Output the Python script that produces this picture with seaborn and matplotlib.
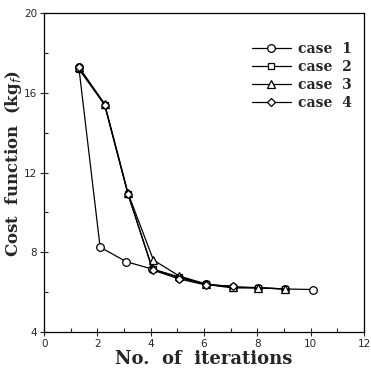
import matplotlib
matplotlib.use("Agg")
import matplotlib.pyplot as plt
import seaborn as sns
import pandas as pd
from matplotlib.ticker import MultipleLocator

case1_x = [1.3, 2.1, 3.08, 4.05, 5.06, 6.06, 7.07, 8.04, 9.04, 10.09]
case1_y = [17.3, 8.25, 7.52, 7.15, 6.72, 6.38, 6.25, 6.22, 6.15, 6.12]
case2_x = [1.3, 2.27, 3.15, 4.07, 5.07, 6.07, 7.07, 8.04, 9.04]
case2_y = [17.2, 15.4, 10.9, 7.15, 6.75, 6.38, 6.2, 6.2, 6.15]
case3_x = [1.3, 2.27, 3.15, 4.1, 5.07, 6.07, 7.07, 8.04, 9.04]
case3_y = [17.3, 15.45, 10.95, 7.6, 6.8, 6.4, 6.25, 6.2, 6.15]
case4_x = [1.3, 2.27, 3.15, 4.07, 5.07, 6.07, 7.07]
case4_y = [17.3, 15.4, 10.9, 7.1, 6.65, 6.35, 6.3]
labels = ["case  1", "case  2", "case  3", "case  4"]

frames = []
for lab, xs, ys in zip(labels, [case1_x, case2_x, case3_x, case4_x],
                       [case1_y, case2_y, case3_y, case4_y]):
    frames.append(pd.DataFrame({"iter": xs, "cost": ys, "case": lab}))
df = pd.concat(frames, ignore_index=True)

sns.set_style("ticks")
fig = plt.figure(figsize=(3.71, 3.80), dpi=100)
ax = fig.add_axes([0.119, 0.127, 0.862, 0.838])

sns.lineplot(data=df, x="iter", y="cost", hue="case", style="case",
             markers=["o", "s", "^", "D"], dashes=False,
             palette=["black"] * 4, linewidth=0.9, markersize=5,
             sort=False, ax=ax, legend=False)

for ln, ms in zip(ax.lines, [5.5, 5, 5.5, 4]):
    ln.set_markerfacecolor("white")
    ln.set_markeredgecolor("black")
    ln.set_markeredgewidth(0.9)
    ln.set_markersize(ms)

ax.legend(ax.lines[:4], labels, loc="upper right", frameon=False,
          bbox_to_anchor=(1.0, 0.95), handlelength=2.8, handletextpad=0.5,
          labelspacing=0.3,
          prop={"family": "DejaVu Serif", "weight": "bold", "size": 10})

ax.set_xlim(0, 12)
ax.set_ylim(4, 20)
ax.set_xticks([0, 2, 4, 6, 8, 10, 12])
ax.set_yticks([4, 8, 12, 16, 20])
ax.xaxis.set_minor_locator(MultipleLocator(1))
ax.yaxis.set_minor_locator(MultipleLocator(2))
ax.tick_params(axis="both", which="major", direction="inout", length=6,
               width=0.8, labelsize=7.5, pad=2)
ax.tick_params(axis="both", which="minor", direction="in", length=3, width=0.8)
for s in ax.spines.values():
    s.set_linewidth(0.9)
    s.set_color("black")

ax.set_xlabel("No.  of  iterations", family="DejaVu Serif", fontweight="bold",
              fontsize=13, labelpad=1)
ax.set_ylabel("Cost  function  (kg$_f$)", family="DejaVu Serif",
              fontweight="bold", fontsize=12)
ax.yaxis.set_label_coords(-0.063, 0.53)

fig.savefig("out.png", dpi=100)
